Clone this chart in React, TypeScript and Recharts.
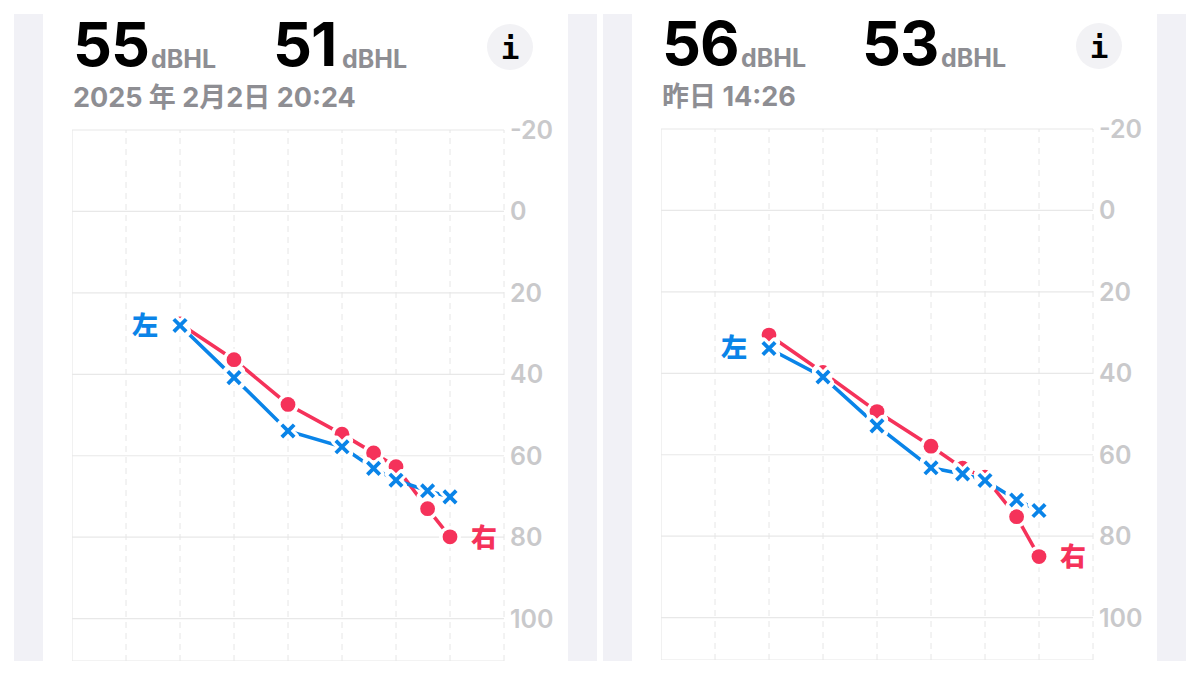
import React from "react";
import { LineChart, Line, XAxis, YAxis, CartesianGrid, ReferenceLine } from "recharts";

const frequencies = [250, 500, 1000, 2000, 3000, 4000, 6000, 8000];
const gridFrequencies = [125, 250, 500, 1000, 2000, 4000, 8000, 16000];
const levelTicks = [-20, 0, 20, 40, 60, 80, 100];

const rightEarA = [27.6, 36.4, 47.4, 54.7, 59.3, 62.7, 73, 79.9];
const leftEarA = [28, 40.8, 53.9, 57.8, 63.1, 66, 68.6, 70.1];
const rightEarB = [30.6, 39.8, 49.4, 57.9, 63.3, 65.5, 75.2, 85];
const leftEarB = [33.9, 40.9, 52.9, 63.2, 64.7, 66.3, 71.1, 73.7];

const RED = "#f5325a";
const BLUE = "#0a84e8";
const GRAY = "#8e8e93";
const SANS = "Inter, 'Noto Sans CJK JP', sans-serif";
const CJK = "'Noto Sans CJK JP', Inter, sans-serif";

const CircleDot = (p: any) =>
  p.cx == null ? null : (
    <circle key={p.index} cx={p.cx} cy={p.cy} r={7.4} fill={RED} stroke="#fff" strokeWidth={7} paintOrder="stroke" />
  );

const CrossDot = (p: any) => {
  if (p.cx == null) return null;
  const a = 6.2;
  const d = `M${p.cx - a} ${p.cy - a}L${p.cx + a} ${p.cy + a}M${p.cx - a} ${p.cy + a}L${p.cx + a} ${p.cy - a}`;
  return (
    <g key={p.index}>
      <path d={d} stroke="#fff" strokeWidth={10} fill="none" strokeLinecap="round" />
      <path d={d} stroke={BLUE} strokeWidth={3.8} fill="none" />
    </g>
  );
};

type PanelProps = {
  x: number;
  y: number;
  right: number[];
  left: number[];
  rightValue: string;
  leftValue: string;
  date: string;
  leftLabelY: number;
  rightLabelY: number;
  unitX1: number;
  unitX2: number;
};

const abs = (left: number, top: number, extra: React.CSSProperties): React.CSSProperties => ({
  position: "absolute",
  left,
  top,
  lineHeight: 1,
  whiteSpace: "nowrap",
  ...extra,
});

function Panel({ x, y, right, left, rightValue, leftValue, date, leftLabelY, rightLabelY, unitX1, unitX2 }: PanelProps) {
  const data = frequencies.map((f, i) => ({ f, right: right[i], left: left[i] }));
  const big: React.CSSProperties = { fontFamily: SANS, fontWeight: 700, fontSize: 61, color: "#000", letterSpacing: -1 };
  const unit: React.CSSProperties = { fontFamily: SANS, fontWeight: 700, fontSize: 25, color: GRAY };
  return (
    <>
      <div style={abs(x - 58, 14, { width: 29, height: 647, background: "#f1f1f6" })} />
      <div style={abs(x + 496, 14, { width: 29, height: 647, background: "#f1f1f6" })} />
      <div style={abs(x + 1, y - 116, big)}>{rightValue}</div>
      <div style={abs(unitX1, y - 83, unit)}>dBHL</div>
      <div style={abs(x + 201, y - 116, big)}>{leftValue}</div>
      <div style={abs(unitX2, y - 83, unit)}>dBHL</div>
      <div style={abs(x + 1, y - 46, { fontFamily: SANS, fontWeight: 700, fontSize: 27, color: GRAY })}>{date}</div>
      <div style={abs(x + 415, y - 106, { width: 46, height: 46, borderRadius: 23, background: "#f2f2f5" })} />
      <div
        style={abs(x + 415, y - 97, {
          width: 46,
          textAlign: "center",
          fontFamily: "'DejaVu Sans Mono', monospace",
          fontWeight: 700,
          fontSize: 31,
          color: "#000",
        })}
      >
        i
      </div>
      <div style={{ position: "absolute", left: x, top: y - 15 }}>
        <LineChart width={490} height={546} data={data} margin={{ top: 15, right: 0, bottom: 0, left: 0 }}>
          <CartesianGrid vertical={false} stroke="#e8e8e8" strokeWidth={1.2} />
          {gridFrequencies.map((f) => (
            <ReferenceLine key={f} x={f} stroke="#e6e6e6" strokeWidth={1} strokeDasharray="6 5" />
          ))}
          <ReferenceLine x={62.5} stroke="#e8e8e8" strokeWidth={1.2} />
          <XAxis dataKey="f" type="number" scale="log" domain={[62.5, 16000]} hide allowDataOverflow />
          <YAxis
            orientation="right"
            width={58}
            reversed
            type="number"
            domain={[-20, 110.4]}
            ticks={levelTicks}
            interval={0}
            allowDataOverflow
            axisLine={false}
            tickLine={false}
            tickMargin={0}
            tick={{ fill: "#c9c9cb", fontSize: 25, fontWeight: 600, fontFamily: SANS }}
          />
          <Line dataKey="right" stroke={RED} strokeWidth={3.6} dot={CircleDot} isAnimationActive={false} />
          <Line dataKey="left" stroke={BLUE} strokeWidth={3.6} dot={CrossDot} isAnimationActive={false} />
        </LineChart>
      </div>
      <div style={abs(x + 60, leftLabelY, { fontFamily: CJK, fontWeight: 900, fontSize: 26, color: BLUE })}>左</div>
      <div style={abs(x + 399, rightLabelY, { fontFamily: CJK, fontWeight: 900, fontSize: 26, color: RED })}>右</div>
    </>
  );
}

export default function App() {
  return (
    <div style={{ position: "absolute", left: 0, top: 0, width: 1200, height: 675, background: "#fff", overflow: "hidden" }}>
      <Panel
        x={72}
        y={130}
        right={rightEarA}
        left={leftEarA}
        rightValue="55"
        leftValue="51"
        date="2025 年 2月2日 20:24"
        leftLabelY={311}
        rightLabelY={523}
        unitX1={151}
        unitX2={342}
      />
      <Panel
        x={661}
        y={129}
        right={rightEarB}
        left={leftEarB}
        rightValue="56"
        leftValue="53"
        date="昨日 14:26"
        leftLabelY={333}
        rightLabelY={542}
        unitX1={741}
        unitX2={941}
      />
    </div>
  );
}
